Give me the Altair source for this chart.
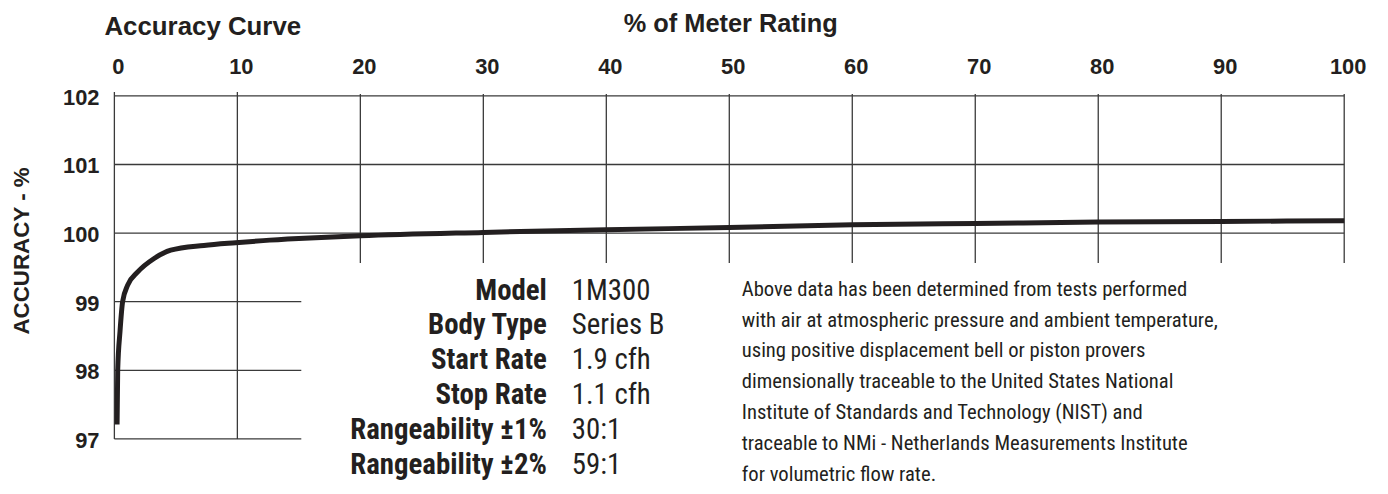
import altair as alt
import pandas as pd

# ---- data ----
x_pct = [0.22, 0.27, 0.46, 0.67, 1.08, 1.88, 3.23, 4.58, 7.28, 9.86, 12.1, 15, 20, 30, 40, 50, 60, 70, 80, 90, 100]
accuracy = [97.21, 98.0, 98.57, 99.0, 99.24, 99.43, 99.63, 99.75, 99.82, 99.86, 99.89, 99.92,
            99.96, 100.01, 100.05, 100.08, 100.12, 100.14, 100.16, 100.17, 100.18]

x_ticks = [0, 10, 20, 30, 40, 50, 60, 70, 80, 90, 100]
y_ticks = [97, 98, 99, 100, 101, 102]
y_full_grid = [100, 101, 102]
y_short_grid = [97, 98, 99]
x_full_grid = [0, 10]
x_short_grid = [20, 30, 40, 50, 60, 70, 80, 90, 100]

spec_labels = ["Model", "Body Type", "Start Rate", "Stop Rate", "Rangeability \u00b11%", "Rangeability \u00b12%"]
spec_values = ["1M300", "Series B", "1.9 cfh", "1.1 cfh", "30:1", "59:1"]
note_lines = [
    "Above data has been determined from tests performed",
    "with air at atmospheric pressure and ambient temperature,",
    "using positive displacement bell or piston provers",
    "dimensionally traceable to the United States National",
    "Institute of Standards and Technology (NIST) and",
    "traceable to NMi - Netherlands Measurements Institute",
    "for volumetric flow rate.",
]

W, H = 1237, 345
INK = "#231f20"
GRID = "#3a3a3a"
BOLD = "Liberation Sans, Arial, Helvetica, sans-serif"
NARROW = "Roboto Condensed, Liberation Sans Narrow, sans-serif"

xs = alt.Scale(domain=[0, 100], nice=False, zero=False)
ys = alt.Scale(domain=[97, 102], nice=False, zero=False)

one = pd.DataFrame({"k": [0]})

hfull = alt.Chart(pd.DataFrame({"y": y_full_grid})).mark_rule(color=GRID, strokeWidth=1.3).encode(
    y=alt.Y("y:Q", scale=ys, axis=None), x=alt.value(0), x2=alt.value(W))
hshort = alt.Chart(pd.DataFrame({"y": y_short_grid})).mark_rule(color=GRID, strokeWidth=1.3).encode(
    y=alt.Y("y:Q", scale=ys, axis=None), x=alt.value(0), x2=alt.value(188))
vfull = alt.Chart(pd.DataFrame({"x": x_full_grid})).mark_rule(color=GRID, strokeWidth=1.3).encode(
    x=alt.X("x:Q", scale=xs, axis=None), y=alt.value(H), y2=alt.value(-4))
vshort = alt.Chart(pd.DataFrame({"x": x_short_grid})).mark_rule(color=GRID, strokeWidth=1.3).encode(
    x=alt.X("x:Q", scale=xs, axis=None), y=alt.value(168), y2=alt.value(-2))

curve = alt.Chart(pd.DataFrame({"x": x_pct, "y": accuracy})).mark_line(
    color=INK, strokeWidth=5, interpolate="monotone", strokeCap="butt").encode(
    x=alt.X("x:Q", scale=xs, axis=None), y=alt.Y("y:Q", scale=ys, axis=None))

xlab = alt.Chart(pd.DataFrame({"x": x_ticks})).mark_text(
    font=BOLD, fontWeight="bold", fontSize=22, color=INK, baseline="bottom", align="center", dx=4).encode(
    x=alt.X("x:Q", scale=xs, axis=None), y=alt.value(-17), text=alt.Text("x:Q"))
ylab = alt.Chart(pd.DataFrame({"y": y_ticks})).mark_text(
    font=BOLD, fontWeight="bold", fontSize=22, color=INK, baseline="middle", align="right", dy=2).encode(
    y=alt.Y("y:Q", scale=ys, axis=None), x=alt.value(-15), text=alt.Text("y:Q"))

def label(text, x, y, **kw):
    return alt.Chart(one).mark_text(text=text, color=INK, **kw).encode(x=alt.value(x), y=alt.value(y))

title1 = label("Accuracy Curve", -10, -61, font=BOLD, fontWeight="bold", fontSize=26, align="left", baseline="alphabetic")
title2 = label("% of Meter Rating", 620, -64, font=BOLD, fontWeight="bold", fontSize=25.5, align="center", baseline="alphabetic")
ytitle = label("ACCURACY - %", -93, 156, font=BOLD, fontWeight="bold", fontSize=22.5, align="center", baseline="middle", angle=270)

specs_l = label(spec_labels, 435, 205, font=NARROW, fontWeight="bold", fontSize=29, align="right",
                baseline="alphabetic", lineHeight=35)
specs_v = label(spec_values, 460, 205, font=NARROW, fontSize=29, align="left",
                baseline="alphabetic", lineHeight=35)
note = label(note_lines, 631, 201, font=NARROW, fontSize=20.8, align="left", baseline="alphabetic", lineHeight=31)

chart = alt.layer(hfull, hshort, vfull, vshort, curve, xlab, ylab, title1, title2, ytitle,
                  specs_l, specs_v, note).properties(
    width=W, height=H,
    padding={"left": 107, "top": 87, "right": 36, "bottom": 46},
    autosize=alt.AutoSizeParams(type="none"),
    background="white",
).configure_view(strokeWidth=0)

chart.save("out.html", embed_options={"renderer": "svg", "actions": False})
